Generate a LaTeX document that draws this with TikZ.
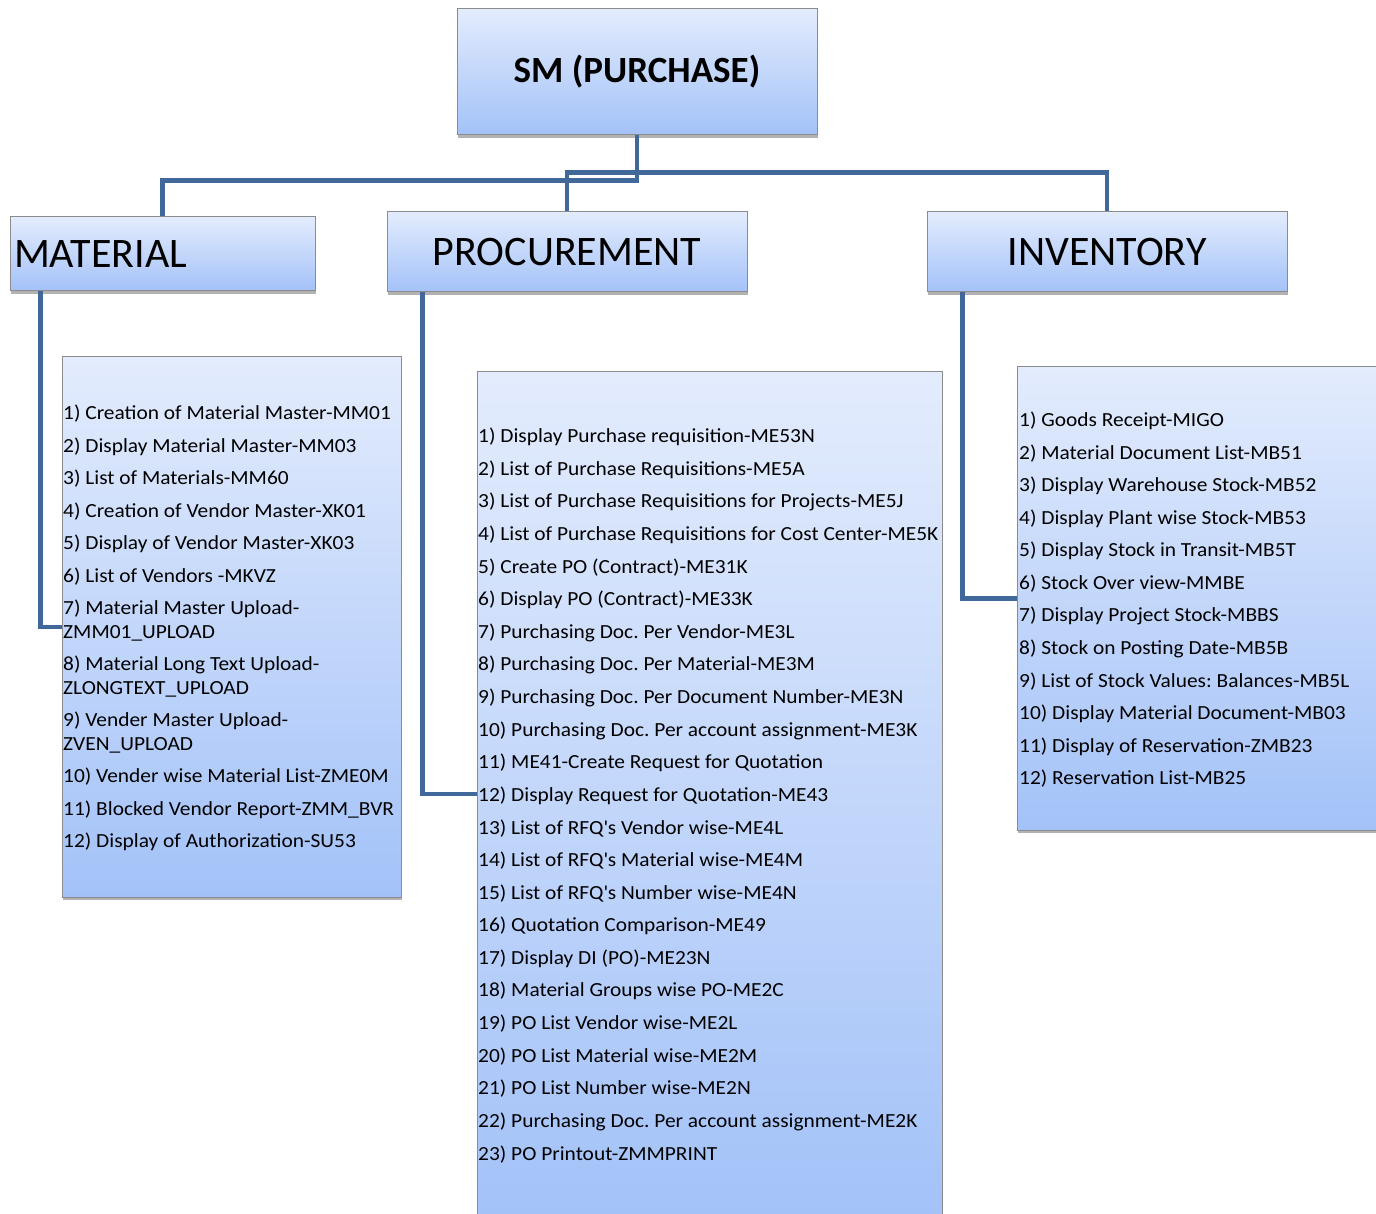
\documentclass[tikz,border=0pt]{standalone}
\usepackage{fontspec}
\setmainfont{Carlito}
\newfontfamily\itemfont[FakeStretch=1.07]{Carlito}
\frenchspacing
\usetikzlibrary{shadows}
\definecolor{topblue}{RGB}{227,236,253}
\definecolor{botblue}{RGB}{163,194,248}
\definecolor{boxgray}{RGB}{140,140,140}
\definecolor{lineblue}{RGB}{65,104,154}
\tikzset{
  box/.style={draw=boxgray, line width=1pt, top color=topblue, bottom color=botblue, inner sep=0pt,
    drop shadow={shadow xshift=1pt, shadow yshift=-3pt, opacity=0.3, fill=black}},
  head/.style={box, minimum width=360pt, minimum height=80pt, font=\fontsize{42}{50}\selectfont},
  conn/.style={draw=lineblue, line width=4.5pt},
  item/.style={anchor=west, inner sep=0pt, align=left, font=\itemfont\fontsize{20}{24}\selectfont}
}

\begin{document}
\begin{tikzpicture}[x=1pt,y=-1pt]
    \clip (0,0) rectangle (1376,1214);
    \fill[white] (0,0) rectangle (1376,1214);
    \node[box, minimum width=360pt, minimum height=126pt, font=\fontsize{37}{44}\selectfont\bfseries] (root) at (637,72) {SM (PURCHASE)};
    \node[box, text width=297pt, inner xsep=4pt, minimum height=74pt, align=left, font=\fontsize{42}{50}\selectfont] (mat) at (162.5,254) {MATERIAL};
    \node[head] (proc) at (567,252) {PROCUREMENT};
    \node[head] (inv) at (1107,252) {INVENTORY};
    \node[box, minimum width=339pt, minimum height=540pt] (mbox) at (231.5,627) {};
    \node[box, minimum width=465pt, minimum height=844pt] (pbox) at (709.5,794) {};
    \node[box, minimum width=368pt, minimum height=463pt] (ibox) at (1201,598.5) {};
    \foreach \y/\t [count=\i from 1] in {414/{1) Creation of Material Master-MM01}, 447/{2) Display Material Master-MM03},
      479/{3) List of Materials-MM60}, 512/{4) Creation of Vendor Master-XK01}, 544/{5) Display of Vendor Master-XK03},
      577/{6) List of Vendors -MKVZ}, 621/{7) Material Master Upload-\\ZMM01\_UPLOAD},
      677/{8) Material Long Text Upload-\\ZLONGTEXT\_UPLOAD}, 733/{9) Vender Master Upload-\\ZVEN\_UPLOAD},
      777/{10) Vender wise Material List-ZME0M}, 810/{11) Blocked Vendor Report-ZMM\_BVR},
      842/{12) Display of Authorization-SU53}}
      {\node[item] (m\i) at (63,\y) {\t};}
    \def\ps{{1) Display Purchase requisition-ME53N},{2) List of Purchase Requisitions-ME5A},
      {3) List of Purchase Requisitions for Projects-ME5J},{4) List of Purchase Requisitions for Cost Center-ME5K},
      {5) Create PO (Contract)-ME31K},{6) Display PO (Contract)-ME33K},{7) Purchasing Doc. Per Vendor-ME3L},
      {8) Purchasing Doc. Per Material-ME3M},{9) Purchasing Doc. Per Document Number-ME3N},
      {10) Purchasing Doc. Per account assignment-ME3K},{11) ME41-Create Request for Quotation},
      {12) Display Request for Quotation-ME43},{13) List of RFQ\textquotesingle s Vendor wise-ME4L},
      {14) List of RFQ\textquotesingle s Material wise-ME4M},{15) List of RFQ\textquotesingle s Number wise-ME4N},
      {16) Quotation Comparison-ME49},{17) Display DI (PO)-ME23N},{18) Material Groups wise PO-ME2C},
      {19) PO List Vendor wise-ME2L},{20) PO List Material wise-ME2M},{21) PO List Number wise-ME2N},
      {22) Purchasing Doc. Per account assignment-ME2K},{23) PO Printout-ZMMPRINT}}
    \foreach \t [count=\i from 1] in \ps {\node[item] (p\i) at (478,{437+32.6*(\i-1)}) {\t};}
    \def\is{{1) Goods Receipt-MIGO},{2) Material Document List-MB51},{3) Display Warehouse Stock-MB52},
      {4) Display Plant wise Stock-MB53},{5) Display Stock in Transit-MB5T},{6) Stock Over view-MMBE},
      {7) Display Project Stock-MBBS},{8) Stock on Posting Date-MB5B},{9) List of Stock Values: Balances-MB5L},
      {10) Display Material Document-MB03},{11) Display of Reservation-ZMB23},{12) Reservation List-MB25}}
    \foreach \t [count=\i from 1] in \is {\node[item] (i\i) at (1019,{421+32.55*(\i-1)}) {\t};}
    \draw[conn] (root.south) -- ++(0,45) -| (mat.north);
    \draw[conn] (root.south) -- ++(0,38);
    \draw[conn] (proc.north) -- ++(0,-39) -| (inv.north);
    \draw[conn] ([xshift=31pt]mat.south west) |- (mbox.west);
    \draw[conn] ([xshift=36pt]proc.south west) |- (pbox.west);
    \draw[conn] ([xshift=36pt]inv.south west) |- (ibox.west);
\end{tikzpicture}
\end{document}
